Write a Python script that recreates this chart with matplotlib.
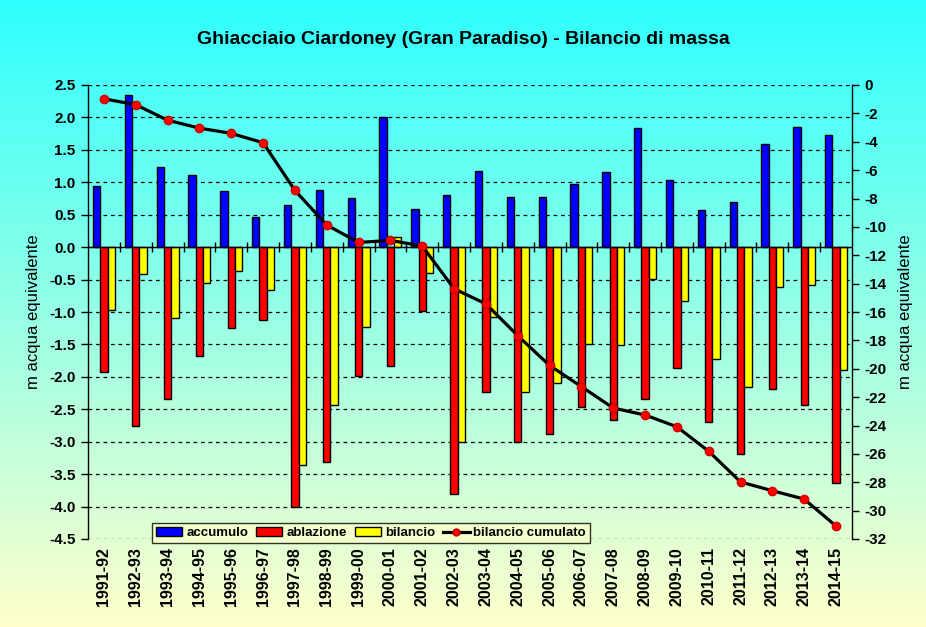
import matplotlib
matplotlib.use("Agg")
import matplotlib.pyplot as plt
import numpy as np
from matplotlib.patches import Patch
from matplotlib.lines import Line2D

# values (m water equivalent)
stagioni = ["1991-92", "1992-93", "1993-94", "1994-95", "1995-96", "1996-97",
            "1997-98", "1998-99", "1999-00", "2000-01", "2001-02", "2002-03",
            "2003-04", "2004-05", "2005-06", "2006-07", "2007-08", "2008-09",
            "2009-10", "2010-11", "2011-12", "2012-13", "2013-14", "2014-15"]
accumulo = [0.94, 2.35, 1.23, 1.11, 0.86, 0.47, 0.65, 0.88, 0.76, 2.00, 0.59, 0.81,
            1.18, 0.78, 0.78, 0.98, 1.16, 1.83, 1.03, 0.57, 0.69, 1.59, 1.85, 1.73]
ablazione = [-1.92, -2.76, -2.34, -1.68, -1.25, -1.12, -4.00, -3.31, -1.98, -1.83, -0.99, -3.81,
             -2.24, -3.01, -2.88, -2.47, -2.66, -2.34, -1.87, -2.70, -3.19, -2.19, -2.44, -3.64]
bilancio = [-0.97, -0.42, -1.09, -0.56, -0.37, -0.66, -3.36, -2.44, -1.23, 0.15, -0.40, -3.01,
            -1.07, -2.24, -2.10, -1.49, -1.51, -0.49, -0.83, -1.73, -2.16, -0.62, -0.59, -1.90]
cumulato = [-0.97, -1.39, -2.48, -3.04, -3.41, -4.07, -7.43, -9.87, -11.10, -10.95, -11.35, -14.36,
            -15.43, -17.67, -19.77, -21.26, -22.77, -23.26, -24.09, -25.82, -27.98, -28.60, -29.19, -31.09]

plt.rcParams['font.family'] = ['Liberation Sans', 'DejaVu Sans']
plt.rcParams['font.weight'] = 'bold'

fig = plt.figure(figsize=(9.26, 6.27), dpi=100)

# gradient background over the whole figure
bg = fig.add_axes([0, 0, 1, 1], zorder=-10)
top = np.array([0.18, 1.0, 1.0])
bot = np.array([1.0, 1.0, 0.80])
t = np.linspace(0, 1, 256)[:, None]
grad = top[None, :] * (1 - t) + bot[None, :] * t
bg.imshow(grad[:, None, :], aspect='auto', extent=[0, 1, 0, 1])
bg.axis('off')

ax = fig.add_axes([88/926, 1 - 539/627, (852-88)/926, (539-85)/627])
ax.set_facecolor('none')

x = np.arange(len(stagioni))
w = 0.23
ax.bar(x - w, accumulo, w, color='#0000ff', edgecolor='black', lw=1, zorder=3)
ax.bar(x, ablazione, w, color='#ff0000', edgecolor='black', lw=1, zorder=3)
ax.bar(x + w, bilancio, w, color='#ffff00', edgecolor='black', lw=1, zorder=3)

ax.set_xlim(-0.5, len(stagioni) - 0.5)
ax.set_ylim(-4.5, 2.5)
ax.set_yticks(np.arange(-4.5, 2.51, 0.5))
ax.set_yticklabels([f"{v:.1f}" for v in np.arange(-4.5, 2.51, 0.5)], fontsize=11)
ax.yaxis.grid(True, color='black', ls=(0, (3, 3)), lw=0.9)
ax.set_axisbelow(True)

ax.axhline(0, color='black', lw=1, zorder=4)
ax.plot(np.arange(len(stagioni) - 1) + 0.5, np.zeros(len(stagioni) - 1), '|',
        color='black', ms=7, mew=1, zorder=4)

ax.set_xticks(x)
ax.set_xticklabels(stagioni, rotation=90, fontsize=11.5)
ax.tick_params(axis='x', length=0, pad=6)
ax.tick_params(axis='y', direction='out', length=5, width=1, pad=4)
for s in ['top', 'bottom']:
    ax.spines[s].set_visible(False)
ax.spines['left'].set_linewidth(1)
ax.spines['right'].set_visible(False)
ax.set_ylabel("m acqua equivalente", fontsize=12, labelpad=6)

ax2 = ax.twinx()
ax2.plot(x, cumulato, color='black', lw=2.3, marker='o', ms=6,
         mfc='#ff0000', mec='#cc0000', zorder=5)
ax2.set_ylim(-32, 0)
ax2.set_yticks(np.arange(-32, 1, 2))
ax2.set_yticklabels([str(v) for v in np.arange(-32, 1, 2)], fontsize=11)
ax2.tick_params(axis='y', direction='out', length=5, width=1, pad=4)
for s in ['top', 'bottom', 'left']:
    ax2.spines[s].set_visible(False)
ax2.spines['right'].set_linewidth(1)
ax2.set_ylabel("m acqua equivalente", fontsize=12, rotation=90, labelpad=8)

fig.suptitle("Ghiacciaio Ciardoney (Gran Paradiso) - Bilancio di massa",
             x=0.5, y=1 - 40/627, va='center', fontsize=14, fontweight='bold')

handles = [Patch(facecolor='#0000ff', edgecolor='black', label='accumulo'),
           Patch(facecolor='#ff0000', edgecolor='black', label='ablazione'),
           Patch(facecolor='#ffff00', edgecolor='black', label='bilancio'),
           Line2D([], [], color='black', lw=2.3, marker='o', ms=5,
                  mfc='#ff0000', mec='#cc0000', label='bilancio cumulato')]
leg = fig.legend(handles=handles, ncol=4, loc='lower left',
                 bbox_to_anchor=(152/926, 1 - 543/627), fontsize=9.5,
                 frameon=True, fancybox=False, edgecolor='black',
                 handlelength=2.0, handletextpad=0.3, columnspacing=0.6,
                 borderpad=0.3, handleheight=0.6, borderaxespad=0)
leg.get_frame().set_facecolor('#f8ffcc')
leg.get_frame().set_linewidth(1)

fig.savefig("out.png", dpi=100)
